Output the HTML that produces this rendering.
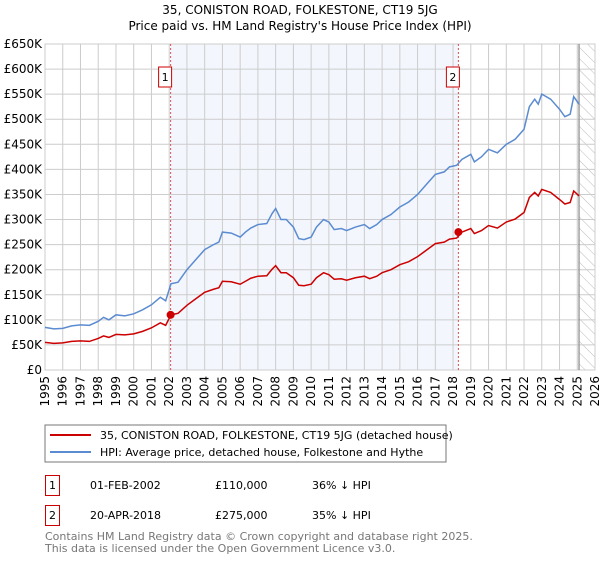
<!DOCTYPE html>
<html><head><meta charset="utf-8"><style>
body{margin:0;background:#fff;font-family:"DejaVu Sans","Liberation Sans",sans-serif;}
svg text{font-family:"DejaVu Sans","Liberation Sans",sans-serif;}
</style></head><body>
<svg id="c" width="600" height="560" xmlns="http://www.w3.org/2000/svg">
<defs><pattern id="hatch" width="8" height="8" patternUnits="userSpaceOnUse" patternTransform="rotate(-45)"><line x1="0" y1="0" x2="0" y2="8" stroke="#bbb" stroke-width="1"/></pattern></defs>
<text x="300" y="14" text-anchor="middle" font-size="12">35, CONISTON ROAD, FOLKESTONE, CT19 5JG</text>
<text x="300" y="30" text-anchor="middle" font-size="12">Price paid vs. HM Land Registry's House Price Index (HPI)</text>
<g id="plot"></g>
<rect x="45" y="425" width="401" height="37" fill="#fff" stroke="#777"/>
<line x1="50" y1="435" x2="91" y2="435" stroke="#cc0000" stroke-width="2"/>
<text x="100" y="439" font-size="11">35, CONISTON ROAD, FOLKESTONE, CT19 5JG (detached house)</text>
<line x1="50" y1="452" x2="91" y2="452" stroke="#5b8bd0" stroke-width="2"/>
<text x="100" y="456" font-size="11">HPI: Average price, detached house, Folkestone and Hythe</text>
<g>
<rect x="45.5" y="475.5" width="14" height="20" fill="none" stroke="#cc0000"/>
<text x="52.5" y="489" text-anchor="middle" font-size="11">1</text>
<text x="90" y="489" font-size="11">01-FEB-2002</text>
<text x="215" y="489" font-size="11">£110,000</text>
<text x="312" y="489" font-size="11">36% ↓ HPI</text></g>
<g>
<rect x="45.5" y="505.5" width="14" height="20" fill="none" stroke="#cc0000"/>
<text x="52.5" y="519" text-anchor="middle" font-size="11">2</text>
<text x="90" y="519" font-size="11">20-APR-2018</text>
<text x="215" y="519" font-size="11">£275,000</text>
<text x="312" y="519" font-size="11">35% ↓ HPI</text></g>
<text x="45" y="540" font-size="11" fill="#777">Contains HM Land Registry data © Crown copyright and database right 2025.</text>
<text x="45" y="552" font-size="11" fill="#777">This data is licensed under the Open Government Licence v3.0.</text>
</svg>
<script>
const hpiYears=[1995,1995.5,1996,1996.5,1997,1997.5,1998,1998.3,1998.6,1999,1999.5,2000,2000.5,2001,2001.5,2001.8,2002.1,2002.5,2003,2003.5,2004,2004.5,2004.8,2005,2005.5,2006,2006.3,2006.6,2007,2007.5,2007.8,2008,2008.3,2008.6,2009,2009.3,2009.6,2010,2010.3,2010.7,2011,2011.3,2011.7,2012,2012.5,2013,2013.3,2013.7,2014,2014.5,2015,2015.5,2016,2016.5,2017,2017.5,2017.8,2018.2,2018.5,2019,2019.2,2019.6,2020,2020.5,2021,2021.5,2022,2022.3,2022.6,2022.8,2023,2023.5,2024,2024.3,2024.6,2024.8,2025.1];
const hpiValues=[85,82,83,88,90,89,97,105,100,110,108,112,120,130,145,138,172,175,200,220,240,250,255,275,273,265,275,283,290,292,312,322,300,300,285,262,260,265,285,300,295,280,282,278,285,290,282,290,300,310,325,335,350,370,390,395,405,408,420,430,415,425,440,433,450,460,480,525,540,530,550,540,520,505,510,545,530];
const propValues=[55,53,54,57,58,57,63,68,65,71,70,72,77,84,94,89,110,113,129,142,155,161,164,177,176,171,177,183,187,188,201,208,194,194,184,169,168,171,184,194,190,181,182,179,184,187,182,187,194,200,210,216,226,239,252,255,261,263,275,282,272,278,288,283,295,301,314,344,354,347,360,354,340,331,334,357,347];
const yTicks=[0,50,100,150,200,250,300,350,400,450,500,550,600,650];
const xTicks=[1995,1996,1997,1998,1999,2000,2001,2002,2003,2004,2005,2006,2007,2008,2009,2010,2011,2012,2013,2014,2015,2016,2017,2018,2019,2020,2021,2022,2023,2024,2025,2026];
const sales=[{n:"1",year:2002.08,value:110},{n:"2",year:2018.3,value:275}];
const L=45,R=595,T=44,B=370;
const x=v=>L+(v-1995)/(2026-1995)*(R-L);
const y=v=>B-v/650*(B-T);
const g=document.getElementById('plot');const NS="http://www.w3.org/2000/svg";
function mk(t,a,p){const e=document.createElementNS(NS,t);for(const k in a)e.setAttribute(k,a[k]);(p||g).appendChild(e);return e;}
let e;
e=mk('rect',{x:x(2002.08),y:T,width:x(2018.3)-x(2002.08),height:B-T,fill:'#eef3fc',opacity:0.7});


e=mk('rect',{x:x(2025.1),y:T,width:R-x(2025.1),height:B-T,fill:'url(#hatch)'});


yTicks.forEach(v=>{
 e=mk('line',{x1:L,x2:R,y1:y(v),y2:y(v),stroke:'#ccc'});
 
 
 e=mk('text',{x:L-3,y:y(v)+4,'text-anchor':'end','font-size':12});
 e.textContent=v===0?'£0':'£'+v+'K';
 
 
});
xTicks.forEach(v=>{
 e=mk('line',{x1:x(v),x2:x(v),y1:T,y2:B,stroke:'#ccc'});
 
 
 e=mk('text',{transform:`translate(${x(v)+4},${B+6}) rotate(-90)`,'text-anchor':'end','font-size':12});
 e.textContent=v;
 
 
});
e=mk('rect',{x:L,y:T,width:R-L,height:B-T,fill:'none',stroke:'#ccc'});


e=mk('line',{x1:x(2025.1),x2:x(2025.1),y1:T,y2:B,stroke:'#888','stroke-width':1.2});


sales.forEach(s=>{
 e=mk('line',{x1:x(s.year),x2:x(s.year),y1:T,y2:B,stroke:'#e05050','stroke-dasharray':'2,2'});
 
 
 const bx=x(s.year)-12;
 e=mk('rect',{x:bx,y:67,width:13,height:20,fill:'#fff',stroke:'#cc0000'});
 
 
 e=mk('text',{x:bx+6.5,y:81,'text-anchor':'middle','font-size':11});
 e.textContent=s.n;
 
 
});
e=mk('polyline',{points:hpiYears.map((t,i)=>x(t)+','+y(hpiValues[i])).join(' '),fill:'none',stroke:'#5b8bd0','stroke-width':1.5});


e=mk('polyline',{points:hpiYears.map((t,i)=>x(t)+','+y(propValues[i])).join(' '),fill:'none',stroke:'#cc0000','stroke-width':1.5});


sales.forEach(s=>{
 e=mk('circle',{cx:x(s.year),cy:y(s.value),r:4,fill:'#cc0000'});
 
 
});
</script>
</body></html>
